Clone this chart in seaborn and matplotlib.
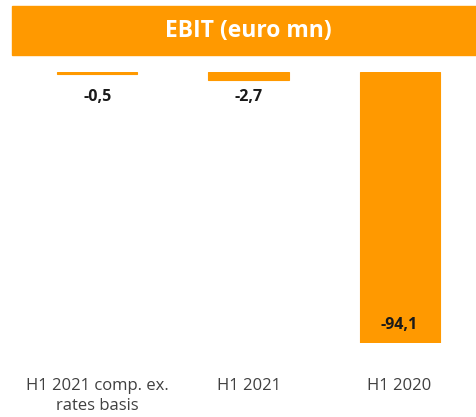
import pandas as pd
import seaborn as sns
import matplotlib.pyplot as plt
from matplotlib.patches import Rectangle

# chart data
categories = ['H1 2021 comp. ex.\nrates basis', 'H1 2021', 'H1 2020']
ebit = [-0.5, -2.7, -94.1]
value_labels = ['-0,5', '-2,7', '-94,1']
title = 'EBIT (euro mn)'

orange = '#FF9900'

sns.set_theme(style='white')
plt.rcParams['font.family'] = ['Open Sans', 'DejaVu Sans']

df = pd.DataFrame({'period': categories, 'ebit': ebit})

fig = plt.figure(figsize=(4.77, 4.17), dpi=100)
ax = fig.add_axes([0.046, 0.1775, 0.95, 0.649])

sns.barplot(data=df, x='period', y='ebit', color=orange, saturation=1,
            width=0.53, edgecolor=orange, linewidth=0.8, ax=ax)
ax.set_ylim(min(ebit), 0)
ax.set_xlim(-0.5, 2.5)

# value labels: small bars get a label below, the big one inside its bottom end
for i, (v, lab) in enumerate(zip(ebit, value_labels)):
    if v > -10:
        ax.annotate(lab, xy=(i, 0), xytext=(0, -18), textcoords='offset points',
                    ha='center', va='center', fontsize=11.5, fontweight='bold',
                    color='#1a1a1a')
    else:
        ax.annotate(lab, xy=(i, v), xytext=(0, 13), textcoords='offset points',
                    ha='center', va='center', fontsize=11.5, fontweight='bold',
                    color='#1a1a1a')

ax.set_xlabel('')
ax.set_ylabel('')
ax.set_yticks([])
ax.tick_params(axis='x', length=0, pad=25, labelsize=12, labelcolor='#404040')
for lbl in ax.get_xticklabels():
    lbl.set_linespacing(1.35)
sns.despine(ax=ax, left=True, bottom=True)

# orange title banner
fig.patches.append(Rectangle((12 / 477, 1 - 55 / 417), 1 - 12 / 477, 49 / 417,
                             transform=fig.transFigure, color=orange, zorder=0))
fig.text(248 / 477, 1 - 31 / 417, title, ha='center', va='center',
         color='white', fontsize=16.5, fontweight='bold')

fig.savefig('out.png', dpi=100)
